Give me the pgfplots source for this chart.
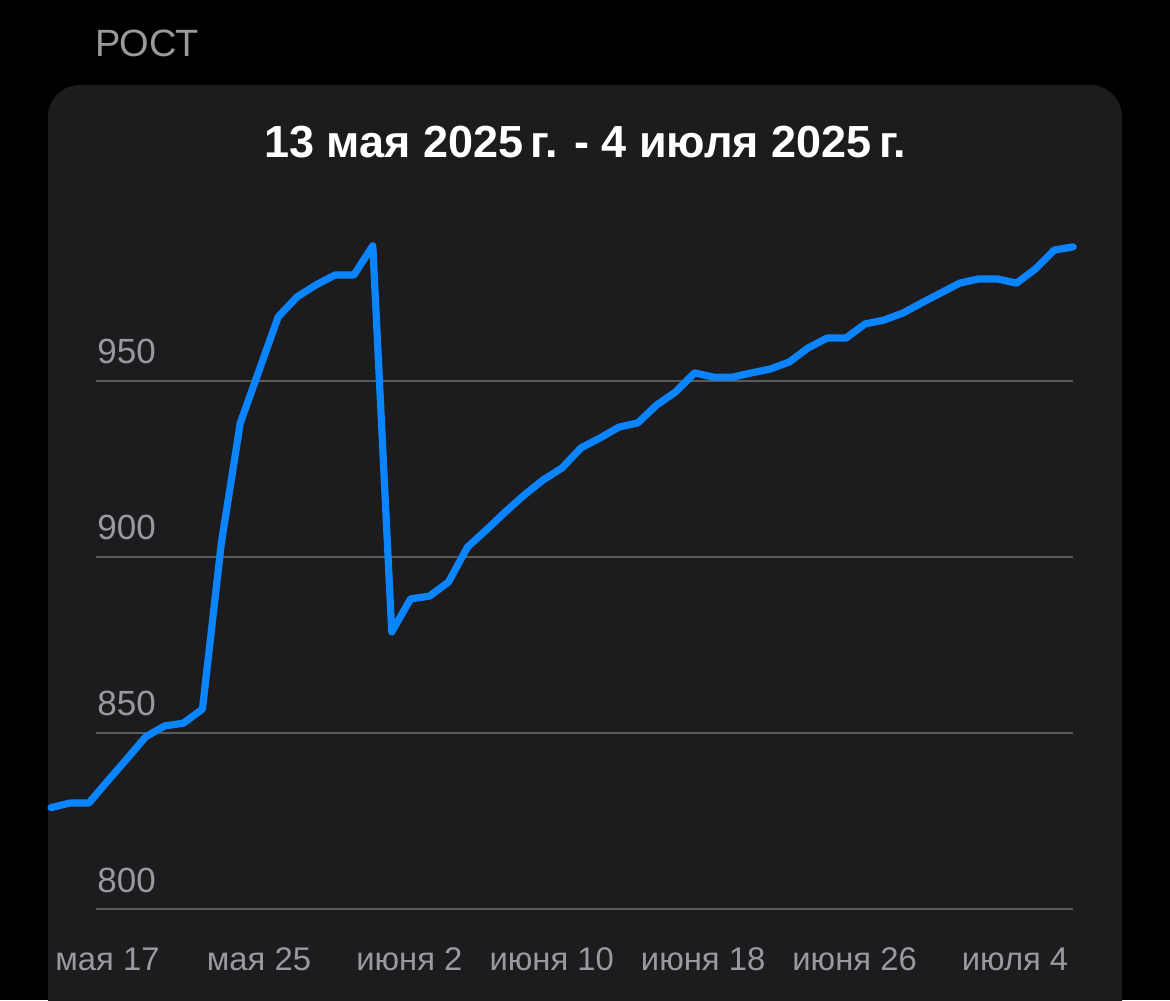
\documentclass[border=0pt]{standalone}
\usepackage{pgfplots}
\pgfplotsset{compat=1.18}
\usepackage{fontspec}
\setmainfont{Liberation Sans}
\definecolor{panel}{HTML}{1C1C1E}
\definecolor{gridgray}{HTML}{5A5A5C}
\definecolor{labelgray}{HTML}{9A9A9E}
\definecolor{lineblue}{HTML}{0A84FF}
\begin{document}
\begin{tikzpicture}
\useasboundingbox (0,0) rectangle (585pt,500pt);
\clip (0,0) rectangle (585pt,500pt);
\fill[black] (0,0) rectangle (585pt,500pt);
\fill[panel, rounded corners=16pt] (24pt,-30pt) rectangle (561pt,457.5pt);
\node[anchor=base west, inner sep=0pt, text=labelgray, font=\fontsize{19}{23}\selectfont] at (47.5pt,471.5pt) {РОСТ};
\node[anchor=base, inner sep=0pt, text=white, font=\fontsize{22.5}{27}\selectfont\bfseries] at (292.5pt,421pt) {13 мая 2025\,г. - 4 июля 2025\,г.};
\begin{axis}[
  at={(48pt,45.5pt)}, anchor=south west,
  scale only axis, width=488.6pt, height=352pt,
  xmin=13.377, xmax=65, ymin=800, ymax=1000,
  clip=false,
  axis line style={draw=none},
  major tick length=0pt,
  tick style={draw=none},
  ytick={800,850,900,950},
  ymajorgrids,
  grid style={color=gridgray, line width=1pt},
  xtick={17,25,33,41,49,57,65},
  xticklabels={мая 17, мая 25, июня 2, июня 10, июня 18, июня 26, июля 4},
  /pgf/number format/assume math mode=true,
  yticklabel style={anchor=base west, inner sep=0pt, xshift=0.5pt, yshift=8.5pt, text=labelgray, font=\fontsize{17.5}{20}\selectfont},
  xticklabel style={anchor=base east, inner sep=0pt, xshift=-2.3pt, yshift=-30.5pt, text=labelgray, font=\fontsize{16.4}{20}\selectfont},
]
\addplot[color=lineblue, line width=3.6pt, line join=round, line cap=round] coordinates {
(11,828.8) (12,830.1) (13,830.1) (14,836.4) (15,842.6) (16,848.9) (17,852.0) (18,852.8) (19,856.8)
(20,904.0) (21,938.1) (22,953.1) (23,968.2) (24,973.9) (25,977.3) (26,980.1) (27,980.1) (28,988.4)
(29,878.7) (30,888.1) (31,888.9) (32,892.9) (33,902.8) (34,907.7) (35,912.8) (36,917.6) (37,921.9)
(38,925.3) (39,931.0) (40,933.8) (41,936.9) (42,938.1) (43,943.2) (44,946.9) (45,952.3) (46,951.1)
(47,951.1) (48,952.3) (49,953.4) (50,955.4) (51,959.4) (52,962.2) (53,962.2) (54,966.2) (55,967.3)
(56,969.3) (57,972.2) (58,975.0) (59,977.8) (60,979.0) (61,979.0) (62,977.8) (63,981.8) (64,987.2)
(65,988.1)
};
\end{axis}
\end{tikzpicture}
\end{document}
